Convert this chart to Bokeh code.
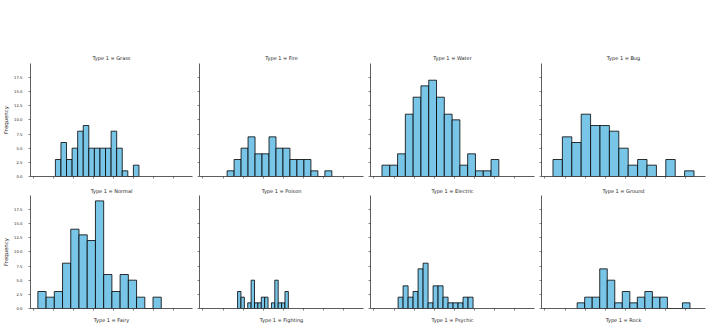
import numpy as np
from bokeh.plotting import figure
from bokeh.layouts import column, row
from bokeh.models import Range1d, FixedTicker, NumeralTickFormatter, Title, Spacer
from bokeh.embed import file_html
from bokeh.resources import INLINE

# ---- data (Attack histograms per primary type, 15 bins each) ----
row1_types = ["Grass", "Fire", "Water", "Bug"]
row2_types = ["Normal", "Poison", "Electric", "Ground"]
row3_types = ["Fairy", "Fighting", "Psychic", "Rock"]

attack_min = {"Grass": 27, "Fire": 30, "Water": 10, "Bug": 10,
              "Normal": 5, "Poison": 43, "Electric": 30, "Ground": 40}
attack_max = {"Grass": 132, "Fire": 160, "Water": 155, "Bug": 185,
              "Normal": 160, "Poison": 106, "Electric": 123, "Ground": 180}

grass_counts = [3, 6, 3, 5, 8, 9, 5, 5, 5, 5, 8, 5, 1, 0, 2]
fire_counts = [1, 3, 5, 7, 4, 4, 7, 5, 5, 3, 3, 3, 1, 0, 1]
water_counts = [2, 2, 4, 11, 14, 16, 17, 14, 11, 10, 2, 4, 1, 1, 3]
bug_counts = [3, 7, 6, 11, 9, 9, 8, 5, 2, 3, 2, 0, 3, 0, 1]
normal_counts = [3, 2, 3, 8, 14, 13, 12, 19, 6, 3, 6, 5, 2, 0, 2]
poison_counts = [3, 2, 0, 1, 5, 1, 1, 2, 2, 0, 1, 5, 1, 1, 3]
electric_counts = [2, 4, 2, 3, 7, 8, 1, 4, 4, 2, 1, 1, 1, 2, 2]
ground_counts = [1, 2, 2, 7, 5, 1, 3, 1, 2, 3, 2, 2, 0, 0, 1]

counts = {"Grass": grass_counts, "Fire": fire_counts, "Water": water_counts,
          "Bug": bug_counts, "Normal": normal_counts, "Poison": poison_counts,
          "Electric": electric_counts, "Ground": ground_counts}

x_ticks = [0, 25, 50, 75, 100, 125, 150, 175]
y_ticks = [0, 2.5, 5, 7.5, 10, 12.5, 15, 17.5]

FONT = "DejaVu Sans"
BAR = "#78c5e8"
AX = "#333333"

x_range = Range1d(-4.25, 199.25)
y_range = Range1d(0, 19.95)


def hide_labels(ax):
    ax.major_label_text_font_size = "0px"
    ax.major_label_text_color = None
    ax.major_label_standoff = 0


def make_panel(t, col, r, below=None):
    left = 28 if col == 0 else 4
    right = 4 if col == 3 else 3
    top = 13 if r == 0 else 12
    bottom = 7 if r == 0 else 19
    w = left + 164 + right
    h = top + 113 + bottom
    p = figure(width=w, height=h, x_range=x_range, y_range=y_range,
               output_backend="svg", toolbar_location=None,
               min_border_left=left, min_border_right=right,
               min_border_top=top, min_border_bottom=bottom)
    p.title.text = "Type 1 = " + t
    p.title.align = "center"
    p.title.text_font = FONT
    p.title.text_font_size = "5px"
    p.title.text_font_style = "normal"
    p.title.text_color = "#262626"
    p.title.standoff = 5 if r == 0 else 4
    p.outline_line_color = None
    p.background_fill_color = "white"
    p.border_fill_color = "white"
    p.xgrid.visible = False
    p.ygrid.visible = False

    edges = np.linspace(attack_min[t], attack_max[t], len(counts[t]) + 1)
    p.quad(left=edges[:-1], right=edges[1:], bottom=0, top=counts[t],
           fill_color=BAR, line_color="black", line_width=0.8)

    for ax in (p.xaxis[0], p.yaxis[0]):
        ax.axis_line_color = AX
        ax.axis_line_width = 0.8
        ax.major_tick_line_color = AX
        ax.major_tick_line_width = 0.6
        ax.major_tick_in = 0
        ax.major_tick_out = 2
        ax.minor_tick_line_color = None
        ax.major_label_text_font = FONT
        ax.major_label_text_color = "#262626"
    p.xaxis.ticker = FixedTicker(ticks=x_ticks)
    hide_labels(p.xaxis[0])
    p.yaxis.ticker = FixedTicker(ticks=y_ticks)
    p.yaxis.formatter = NumeralTickFormatter(format="0.0")
    if col == 0:
        p.yaxis.major_label_text_font_size = "3.8px"
        p.yaxis.major_label_standoff = 6
        p.yaxis.axis_label = "Frequency"
        p.yaxis.axis_label_text_font = FONT
        p.yaxis.axis_label_text_font_size = "5.4px"
        p.yaxis.axis_label_text_font_style = "normal"
        p.yaxis.axis_label_text_color = "#262626"
        p.yaxis.axis_label_standoff = 2
    else:
        hide_labels(p.yaxis[0])
    if below is not None:
        p.add_layout(Title(text="Type 1 = " + below, align="center",
                           text_font=FONT, text_font_size="5px",
                           text_font_style="normal", text_color="#262626",
                           standoff=8), "below")
    return p


r1 = [make_panel(t, i, 0) for i, t in enumerate(row1_types)]
r2 = [make_panel(t, i, 1, below=row3_types[i]) for i, t in enumerate(row2_types)]

layout = column(Spacer(width=709, height=50), row(*r1), row(*r2))

open("out.html", "w").write(file_html(layout, INLINE))
